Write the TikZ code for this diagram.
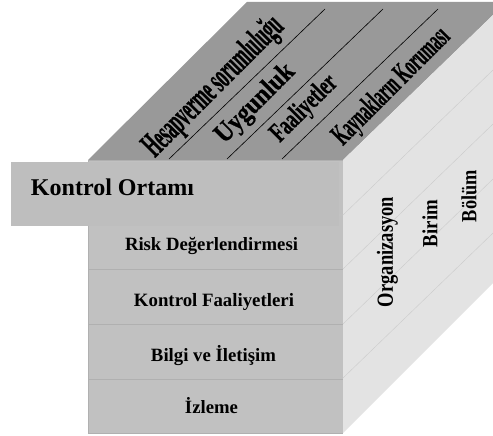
\documentclass[tikz,border=0pt]{standalone}
\usepackage{graphicx}
\usepackage{fontspec}
\setmainfont{Liberation Serif}
\newfontfamily\heavyserif[FakeBold=0.8]{Liberation Serif Bold}
\definecolor{topface}{HTML}{999999}
\definecolor{frontface}{HTML}{C1C1C1}
\definecolor{sideface}{HTML}{E3E3E3}
\definecolor{sep}{HTML}{B0B0B0}
\definecolor{sideline}{HTML}{CDCDCD}
\definecolor{ortam}{HTML}{BEBEBE}
\tikzset{
  px/.style={x=1pt,y=-1pt},
  facelabel/.style={font=\bfseries,text=black,inner sep=0pt,anchor=center},
  toplabel/.style={facelabel,font=\heavyserif,rotate=45},
  sidelabel/.style={facelabel,rotate=90},
  sepline/.style={draw=sep,line width=1pt},
  sidesep/.style={draw=sideline,line width=0.45pt},
  topsep/.style={draw=black,line width=0.6pt}
}
\begin{document}
\begin{tikzpicture}[px]
\useasboundingbox (0,0) rectangle (493,436);
\fill[white] (0,0) rectangle (493,436);
% faces
\fill[topface] (88,160) -- (247,2) -- (493,2) -- (493,15) -- (343,160) -- cycle;
\fill[sideface] (343,160) -- (493,15) -- (493,283) -- (343,433) -- cycle;
\fill[frontface] (88,160) rectangle (343,433);
\draw[sepline] (88,433) -- (343,433);
\draw[draw=sep,line width=0.6pt] (88,161) -- (88,433);
\draw[draw=sep,line width=0.6pt] (88,160.5) -- (343,160.5);
% layer separators
\draw[sepline] (88,269) -- (343,269);
\draw[sepline] (88,324) -- (343,324);
\draw[sepline] (88,379) -- (343,379);
% side lines
\draw[sidesep] (339,215) -- (343,215) -- (493,70);
\draw[sidesep] (343,269) -- (493,124);
\draw[sidesep] (343,324) -- (493,179);
\draw[sidesep] (343,378) -- (493,233);
% top lines
\draw[topsep] (169,159) -- (325,9);
\draw[topsep] (227,159) -- (383,9);
\draw[topsep] (282,159) -- (438,9);
% control environment box
\fill[ortam] (11,162) rectangle (339,226);
% front labels
\node[facelabel] (ortami) at (112.5,187) {\resizebox{163pt}{!}{Kontrol Ortamı}};
\node[facelabel] (risk) at (211.5,246) {\resizebox{173pt}{!}{Risk Değerlendirmesi}};
\node[facelabel] (faal) at (214,302) {\resizebox{160pt}{!}{Kontrol Faaliyetleri}};
\node[facelabel] (bilgi) at (213.5,356) {\resizebox{125pt}{!}{Bilgi ve İletişim}};
\node[facelabel] (izleme) at (211.5,406) {\resizebox{53pt}{!}{İzleme}};
% top labels
\node[toplabel] (hesap) at (214,87) {\resizebox{184pt}{25pt}{Hesapverme sorumluluğu}};
\node[toplabel] (uygun) at (255.5,104) {\resizebox{101pt}{19pt}{Uygunluk}};
\node[toplabel] (faaliyet) at (304.5,109) {\resizebox{83pt}{19pt}{Faaliyetler}};
\node[toplabel] (kaynak) at (392,87) {\resizebox{153pt}{21pt}{Kaynakların Koruması}};
% side labels
\node[sidelabel] (org) at (387.5,252) {\resizebox{110pt}{16pt}{Organizasyon}};
\node[sidelabel] (birim) at (430,223.5) {\resizebox{47pt}{15pt}{Birim}};
\node[sidelabel] (bolum) at (469,196) {\resizebox{52pt}{15pt}{Bölüm}};
\end{tikzpicture}
\end{document}
